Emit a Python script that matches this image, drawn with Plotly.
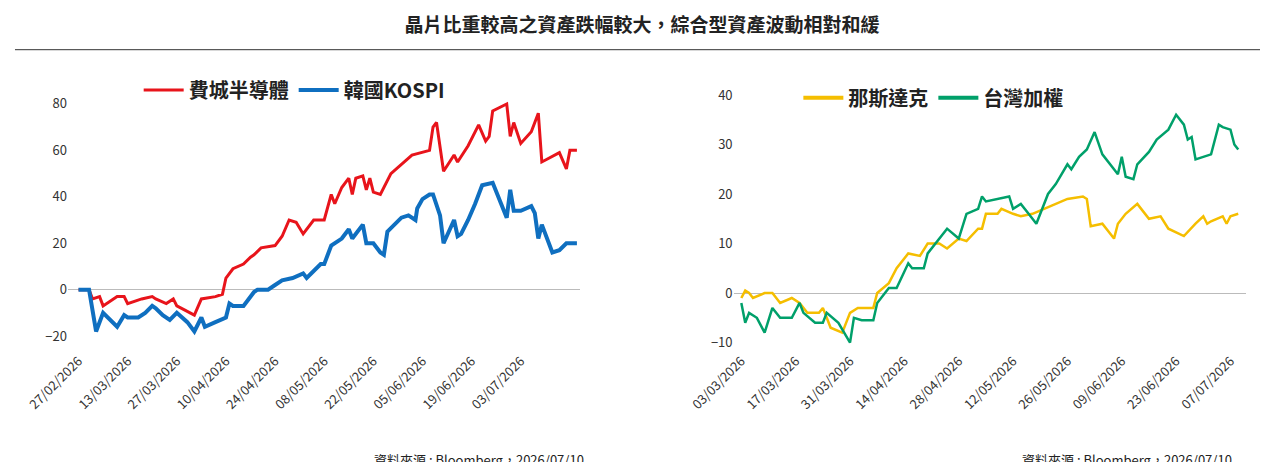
import pandas as pd
import plotly.graph_objects as go
from plotly.subplots import make_subplots

# left panel: day offsets from 27/02/2026
left_base = "2026-02-27"
sox_days = [0, 3, 4, 6, 7, 11, 13, 14, 18, 21, 22, 25, 27, 28, 33, 35, 39, 41, 42, 44, 47, 49, 50, 52, 56, 58, 60,
            62, 64, 67, 70, 72, 73, 75, 77, 78, 79, 81, 82, 83, 84, 86, 89, 92, 95, 100, 101, 102, 104, 107, 108,
            111, 114, 116, 117, 118, 122, 123, 124, 126, 129, 131, 132, 137, 139, 140, 142]
sox_vals = [0, 0, -4, -3, -7, -3, -3, -6, -4, -3, -4, -6, -4, -7, -11, -4, -3, -2, 5, 9, 11, 14, 15, 18, 19, 23, 30,
            29, 24, 30, 30, 41, 37, 44, 48, 41, 48, 49, 43, 48, 42, 41, 50, 54, 58, 60, 70, 72, 51, 58, 55,
            62, 71, 64, 66, 77, 80, 66, 72, 63, 68, 76, 55, 59, 52, 60, 60]
kospi_days = [0, 3, 5, 7, 11, 13, 14, 17, 19, 21, 22, 24, 26, 28, 31, 33, 35, 36, 39, 42, 43, 44, 47, 50, 51, 54,
              56, 58, 61, 64, 65, 69, 70, 72, 75, 77, 78, 81, 82, 84, 86, 87, 88, 90, 92, 94, 96, 96.5, 98, 100,
              101, 103, 104, 107, 108, 109, 111, 113, 115, 118, 122, 123, 124, 126, 129, 130, 131, 132, 135, 137,
              139, 142]
kospi_vals = [0, 0, -18, -10, -16, -11, -12, -12, -10, -7, -8, -11, -13, -10, -14, -18, -12, -16, -14, -12, -6, -7,
              -7, -1, 0, 0, 2, 4, 5, 7, 5, 11, 11, 19, 22, 26, 22, 28, 20, 20, 16, 15, 25, 28, 31, 32, 30, 35, 39,
              41, 41, 32, 20, 30, 23, 24, 30, 37, 45, 46, 31, 43, 34, 34, 36, 33, 22, 28, 16, 17, 20, 20]
left_ticks = ["27/02/2026", "13/03/2026", "27/03/2026", "10/04/2026", "24/04/2026", "08/05/2026",
              "22/05/2026", "05/06/2026", "19/06/2026", "03/07/2026"]

# right panel: day offsets from 03/03/2026
right_base = "2026-03-03"
nas_days = [0, 1, 2, 3, 6, 8, 10, 13, 15, 17, 20, 21, 22, 23, 26, 28, 30, 34, 35, 38, 40, 43, 46, 48, 51, 53, 56, 58,
            61, 62, 63, 66, 67, 70, 72, 75, 78, 81, 84, 88, 89, 90, 93, 96, 97, 99, 102, 105, 108, 110, 114, 117,
            119, 120, 121, 124, 125, 126, 128]
nas_vals = [-1, 0.5, 0, -1, 0, 0, -2, -1, -2, -4, -4, -3, -5, -7, -8, -4, -3, -3, 0, 2, 5, 8, 7.5, 10, 10, 9, 11,
            10.5, 13, 13, 16, 16, 17, 16, 15.5, 16, 17, 18, 19, 19.5, 19, 13.5, 14, 11, 14, 16, 18, 15, 15.5, 13,
            11.5, 14, 15.5, 14, 14.5, 15.5, 14, 15.5, 16]
twse_days = [0, 1, 2, 4, 6, 8, 10, 13, 15, 16, 19, 21, 22, 25, 28, 29, 31, 34, 35, 38, 40, 43, 44, 47, 48, 51, 53,
             56, 58, 61, 62, 63, 66, 69, 70, 72, 74, 76, 79, 81, 84, 85, 87, 89, 91, 93, 96, 97, 98, 99, 101, 102,
             105, 107, 110, 112, 114, 115, 116, 117, 121, 123, 124, 126, 127, 128]
twse_vals = [-2, -6, -4, -5, -8, -3, -5, -5, -2, -4, -6, -6, -4, -6, -10, -5, -5.5, -5.5, -2, 1, 1, 6, 5, 5, 8, 11,
             13, 11, 16, 17, 19.5, 18.5, 19, 19.5, 17, 18, 16, 14, 20, 22, 26, 25, 27.5, 29, 32.5, 28, 25, 24, 27.5,
             23.5, 23, 26, 28.5, 31, 33, 36, 34, 31, 31.5, 27, 28, 34, 33.5, 33, 30, 29]
right_ticks = ["03/03/2026", "17/03/2026", "31/03/2026", "14/04/2026", "28/04/2026", "12/05/2026",
               "26/05/2026", "09/06/2026", "23/06/2026", "07/07/2026"]


def to_dates(base, days):
    return pd.Timestamp(base) + pd.to_timedelta(days, unit="D")


def tick_dates(labels):
    return [pd.to_datetime(t, format="%d/%m/%Y") for t in labels]


FONT = "Noto Sans CJK TC, Noto Sans, sans-serif"
RED, BLUE, GOLD, GREEN = "#e8141b", "#0f6fc0", "#f5be00", "#00a06a"

fig = make_subplots(rows=1, cols=2, horizontal_spacing=0.13)

fig.add_trace(go.Scatter(x=to_dates(left_base, sox_days), y=sox_vals, name="<b>費城半導體</b>",
                         mode="lines", line=dict(color=RED, width=3)), row=1, col=1)
fig.add_trace(go.Scatter(x=to_dates(left_base, kospi_days), y=kospi_vals, name="<b>韓國KOSPI</b>",
                         mode="lines", line=dict(color=BLUE, width=4)), row=1, col=1)
fig.add_trace(go.Scatter(x=to_dates(right_base, nas_days), y=nas_vals, name="那斯達克",
                         mode="lines", line=dict(color=GOLD, width=2.5), showlegend=False), row=1, col=2)
fig.add_trace(go.Scatter(x=to_dates(right_base, twse_days), y=twse_vals, name="台灣加權",
                         mode="lines", line=dict(color=GREEN, width=2.5), showlegend=False), row=1, col=2)

axis_x = dict(tickangle=-45, tickformat="%d/%m/%Y", showgrid=False, showline=False, zeroline=False,
              tickfont=dict(size=13, color="#333"), ticks="")
fig.update_xaxes(**axis_x, tickvals=tick_dates(left_ticks),
                 range=[pd.Timestamp("2026-02-24"), pd.Timestamp("2026-07-20")], row=1, col=1)
fig.update_xaxes(**axis_x, tickvals=tick_dates(right_ticks),
                 range=[pd.Timestamp("2026-03-01"), pd.Timestamp("2026-07-11")], row=1, col=2)
axis_y = dict(showgrid=False, zeroline=True, zerolinecolor="#bbb", zerolinewidth=1,
              tickfont=dict(size=13, color="#333"), showline=False)
fig.update_yaxes(**axis_y, range=[-26, 86], tickvals=[-20, 0, 20, 40, 60, 80], row=1, col=1)
fig.update_yaxes(**axis_y, range=[-11.5, 41], tickvals=[-10, 0, 10, 20, 30, 40], row=1, col=2)

# legend entries for the right panel
fig.add_trace(go.Scatter(x=[None], y=[None], name="<b>那斯達克</b>", mode="lines",
                         line=dict(color=GOLD, width=4), legend="legend2"), row=1, col=2)
fig.add_trace(go.Scatter(x=[None], y=[None], name="<b>台灣加權</b>", mode="lines",
                         line=dict(color=GREEN, width=4), legend="legend2"), row=1, col=2)

fig.update_layout(
    width=1268, height=462,
    margin=dict(l=60, r=30, t=82, b=120),
    paper_bgcolor="white", plot_bgcolor="white",
    font=dict(family=FONT),
    title=dict(text="<b>晶片比重較高之資產跌幅較大，綜合型資產波動相對和緩</b>", x=0.5, y=0.962,
               xanchor="center", yanchor="middle", font=dict(size=19, color="#222")),
    legend=dict(orientation="h", x=0.06, y=1.0, xanchor="left", yanchor="middle",
                font=dict(size=20, color="#222"), itemwidth=40),
    legend2=dict(orientation="h", x=0.62, y=0.97, xanchor="left", yanchor="middle",
                 font=dict(size=20, color="#222"), itemwidth=40),
    shapes=[dict(type="line", xref="paper", yref="paper", x0=-0.045, x1=1.02, y0=1.155, y1=1.155,
                 line=dict(color="#333", width=1))],
    annotations=[
        dict(text="資料來源 : Bloomberg，2026/07/10", xref="paper", yref="paper", x=0.44, y=-0.42,
             xanchor="right", yanchor="middle", showarrow=False, font=dict(size=13, color="#222")),
        dict(text="資料來源 : Bloomberg，2026/07/10", xref="paper", yref="paper", x=0.99, y=-0.42,
             xanchor="right", yanchor="middle", showarrow=False, font=dict(size=13, color="#222")),
    ],
)

fig.write_html("out.html")
